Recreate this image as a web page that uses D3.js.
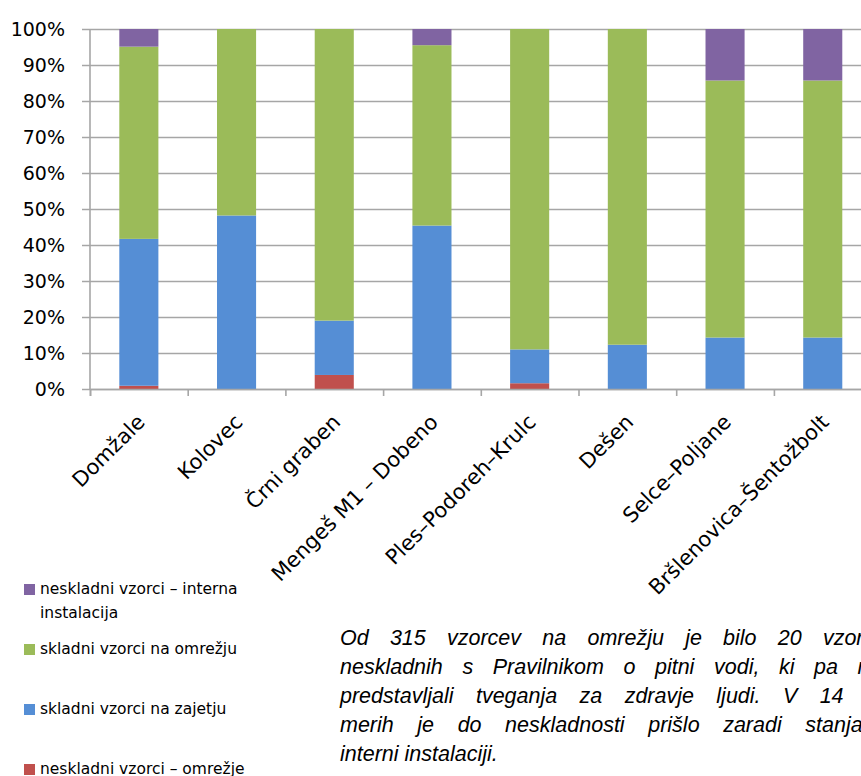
<!DOCTYPE html>
<html>
<head>
<meta charset="utf-8">
<script src="https://cdn.jsdelivr.net/npm/d3@7"></script>
<style>
  body { margin: 0; overflow: hidden; background: #fff; }
  #wrap { position: relative; width: 861px; height: 776px; overflow: hidden; }
  #note {
    position: absolute; left: 340px; top: 624px; width: 557px;
    font-family: "Liberation Sans", Arial, sans-serif; font-style: italic;
    font-size: 21.5px; line-height: 29px; color: #000;
  }
  #note span { display: block; text-align: justify; text-align-last: justify; white-space: nowrap; }
  #note span.last { text-align-last: left; }
</style>
</head>
<body>
<div id="wrap">
  <svg id="chart" width="861" height="776"></svg>
  <div id="note"></div>
</div>
<script>
const categories = ["Domžale", "Kolovec", "Črni graben", "Mengeš M1 – Dobeno",
  "Ples–Podoreh–Krulc", "Dešen", "Selce–Poljane", "Bršlenovica–Šentožbolt"];

// shares in %, stacked bottom to top
const neskladniOmrezje = [0.9, 0, 3.9, 0, 1.6, 0, 0, 0];
const skladniZajetje   = [40.8, 48.2, 15.1, 45.4, 9.4, 12.3, 14.3, 14.3];
const skladniOmrezje   = [53.4, 51.8, 81.0, 50.1, 89.0, 87.7, 71.4, 71.4];
const neskladniInterna = [4.9, 0, 0, 4.5, 0, 0, 14.3, 14.3];

const seriesNames = ["neskladni vzorci – omrežje", "skladni vzorci na zajetju",
  "skladni vzorci na omrežju", "neskladni vzorci – interna instalacija"];
const seriesColors = ["#c0504d", "#558ed5", "#9bbb59", "#8064a2"];

const yTicks = [0, 10, 20, 30, 40, 50, 60, 70, 80, 90, 100];

const noteLines = [
  "Od 315 vzorcev na omrežju je bilo 20 vzorcev",
  "neskladnih s Pravilnikom o pitni vodi, ki pa niso",
  "predstavljali tveganja za zdravje ljudi. V 14 pri-",
  "merih je do neskladnosti prišlo zaradi stanja v",
  "interni instalaciji."
];

const plotLeft = 90, plotRight = 871.6, plotTop = 29, plotBottom = 389;
const gridColor = "#a6a6a6";

const svg = d3.select("#chart");

const x = d3.scaleBand()
  .domain(categories)
  .range([plotLeft, plotRight])
  .paddingInner(0.6)
  .paddingOuter(0.3);

const y = d3.scaleLinear()
  .domain([0, 100])
  .range([plotBottom, plotTop]);

// gridlines + left ticks
const yAxis = svg.append("g")
  .attr("transform", `translate(${plotLeft},0)`)
  .call(d3.axisLeft(y).tickValues(yTicks).tickSize(-(plotRight - plotLeft)).tickPadding(25)
    .tickFormat(d => d + "%"));
yAxis.select(".domain").remove();
yAxis.selectAll(".tick line")
  .attr("x1", -8)
  .attr("stroke", gridColor)
  .attr("stroke-width", 1.6);
yAxis.selectAll(".tick text")
  .attr("x", -25)
  .attr("font-family", "DejaVu Sans, sans-serif")
  .attr("font-size", 19)
  .attr("fill", "#000");

svg.append("line")
  .attr("x1", plotLeft).attr("x2", plotLeft)
  .attr("y1", plotTop).attr("y2", plotBottom)
  .attr("stroke", gridColor)
  .attr("stroke-width", 1.6);

// stacked bars
const rows = categories.map((c, i) => ({
  cat: c, s0: neskladniOmrezje[i], s1: skladniZajetje[i], s2: skladniOmrezje[i], s3: neskladniInterna[i]
}));
const stack = d3.stack().keys(["s0", "s1", "s2", "s3"])(rows);

svg.append("g").selectAll("g")
  .data(stack)
  .join("g")
  .attr("fill", (d, i) => seriesColors[i])
  .selectAll("rect")
  .data(d => d)
  .join("rect")
  .attr("x", d => x(d.data.cat))
  .attr("width", x.bandwidth())
  .attr("y", d => y(d[1]))
  .attr("height", d => y(d[0]) - y(d[1]));

// bottom axis with ticks on category boundaries
const xb = d3.scaleLinear().domain([0, categories.length]).range([plotLeft, plotRight]);
const xAxis = svg.append("g")
  .attr("transform", `translate(0,${plotBottom})`)
  .call(d3.axisBottom(xb).tickValues(d3.range(categories.length + 1)).tickSize(7).tickFormat(""));
xAxis.select(".domain").attr("stroke", gridColor).attr("stroke-width", 1.6);
xAxis.selectAll(".tick line").attr("stroke", gridColor).attr("stroke-width", 1.6);

svg.append("g").selectAll("text")
  .data(categories)
  .join("text")
  .attr("transform", d => `translate(${x(d) + x.bandwidth() / 2 - 3},${plotBottom + 24}) rotate(-45)`)
  .attr("text-anchor", "end")
  .attr("dy", "0.7em")
  .attr("font-family", "DejaVu Sans, sans-serif")
  .attr("font-size", 21)
  .attr("fill", "#000")
  .text(d => d);

// legend (top item = last series)
const legendItems = [
  { idx: 3, lines: ["neskladni vzorci – interna", "instalacija"], y: 588 },
  { idx: 2, lines: ["skladni vzorci na omrežju"], y: 648 },
  { idx: 1, lines: ["skladni vzorci na zajetju"], y: 708 },
  { idx: 0, lines: ["neskladni vzorci – omrežje"], y: 768 }
];
const legend = svg.append("g").selectAll("g")
  .data(legendItems)
  .join("g")
  .attr("transform", d => `translate(24,${d.y})`);
legend.append("rect")
  .attr("x", 0).attr("y", -4)
  .attr("width", 11).attr("height", 11)
  .attr("fill", d => seriesColors[d.idx]);
legend.append("text")
  .attr("font-family", "DejaVu Sans, sans-serif")
  .attr("font-size", 15.5)
  .attr("fill", "#000")
  .selectAll("tspan")
  .data(d => d.lines)
  .join("tspan")
  .attr("x", 16)
  .attr("y", (d, i) => 5.5 + i * 24)
  .text(d => d);

// note paragraph
d3.select("#note").selectAll("span")
  .data(noteLines)
  .join("span")
  .attr("class", (d, i) => i === noteLines.length - 1 ? "last" : null)
  .text(d => d);
</script>
</body>
</html>
